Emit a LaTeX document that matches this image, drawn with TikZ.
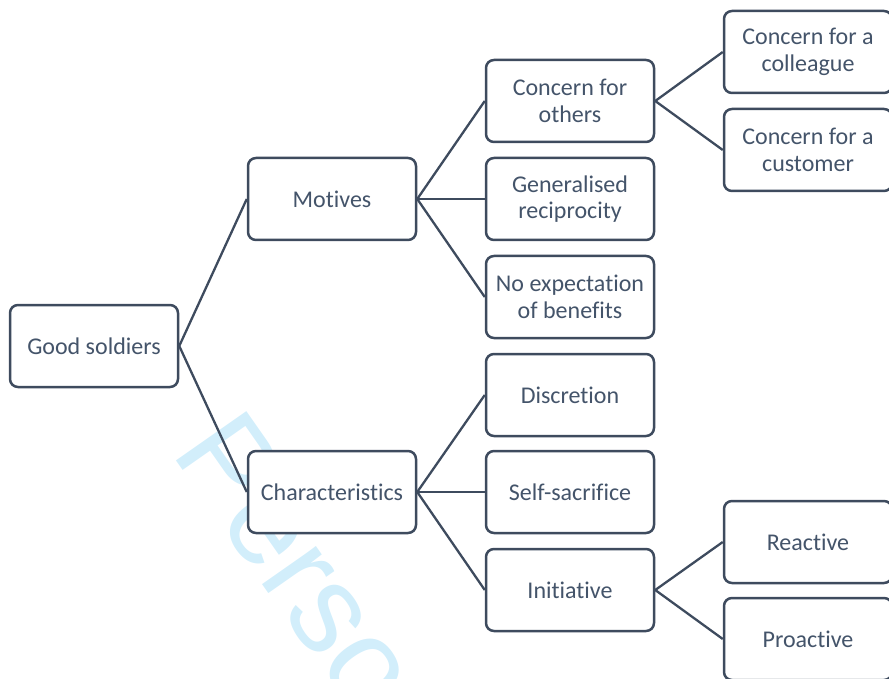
\documentclass[tikz,border=0pt]{standalone}
\usepackage{fontspec}
\setmainfont{Carlito}[Ligatures=NoCommon]
\newfontfamily\wmfont{Liberation Sans}
\definecolor{boxline}{HTML}{3E4B5E}
\definecolor{boxtext}{HTML}{44546A}
\definecolor{wmark}{HTML}{D2EEFB}
\begin{document}
\begin{tikzpicture}[x=1pt,y=-1pt,
  box/.style={draw=boxline, line width=2.5pt, rounded corners=8pt, fill=white,
    minimum width=168pt, minimum height=82pt, inner sep=2pt, align=center,
    text=boxtext, font=\fontsize{24}{26.5}\selectfont},
  link/.style={draw=boxline, line width=2.3pt}]
\useasboundingbox (0,0) rectangle (889,679);
\begin{scope}
\clip (0,0) rectangle (889,679);
\node[wmark, font=\wmfont\fontsize{125}{125}\selectfont, anchor=base west, rotate=-55, inner sep=0pt] (wm) at (170,452) {Person};
\end{scope}
\node[box] (gs) at (94,346) {Good soldiers};
\node[box] (mot) at (332,199) {Motives};
\node[box] (cha) at (332,492) {Characteristics};
\node[box] (cfo) at (570,101) {Concern for\\others};
\node[box] (gr) at (570,199) {Generalised\\reciprocity};
\node[box] (noe) at (570,297) {No expectation\\of benefits};
\node[box] (dis) at (570,395) {Discretion};
\node[box] (ss) at (570,492) {Self-sacrifice};
\node[box] (ini) at (570,590) {Initiative};
\node[box] (cfc) at (808,52) {Concern for a\\colleague};
\node[box] (cfcu) at (808,150) {Concern for a\\customer};
\node[box] (rea) at (808,542) {Reactive};
\node[box] (pro) at (808,639) {Proactive};
\draw[link] (gs.east) -- (mot.west);
\draw[link] (gs.east) -- (cha.west);
\draw[link] (mot.east) -- (cfo.west);
\draw[link] (mot.east) -- (gr.west);
\draw[link] (mot.east) -- (noe.west);
\draw[link] (cha.east) -- (dis.west);
\draw[link] (cha.east) -- (ss.west);
\draw[link] (cha.east) -- (ini.west);
\draw[link] (cfo.east) -- (cfc.west);
\draw[link] (cfo.east) -- (cfcu.west);
\draw[link] (ini.east) -- (rea.west);
\draw[link] (ini.east) -- (pro.west);
\end{tikzpicture}
\end{document}
